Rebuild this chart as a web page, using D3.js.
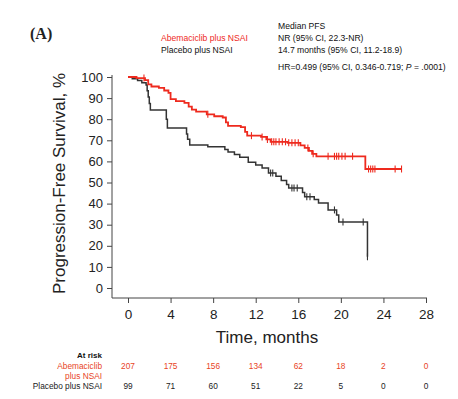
<!DOCTYPE html>
<html><head><meta charset="utf-8">
<script src="https://cdn.jsdelivr.net/npm/d3@7"></script>
<style>body{margin:0;background:#fff}svg{display:block;font-family:"Liberation Sans",Arial,sans-serif}</style>
</head><body><svg id="c" width="458" height="399"></svg>
<script>
// ---- data ----
const timeTicks = [0, 4, 8, 12, 16, 20, 24, 28];
const survTicks = [0, 10, 20, 30, 40, 50, 60, 70, 80, 90, 100];
const abemaSteps = [[0,100],[0.8,99.5],[1.6,98.5],[1.9,96.5],[2.2,95.5],[2.9,94.8],[3.4,93.6],[3.8,92.5],[4.0,89.5],[4.5,88.6],[5.3,87.7],[5.7,86],[6.0,84.5],[6.4,83.6],[7.4,82.3],[8.1,81.4],[8.9,80.8],[9.2,78.5],[9.4,76.8],[10.6,76.2],[11.0,74],[11.2,72.2],[12.5,71.6],[13.0,70.4],[13.4,69.3],[15.0,68.8],[16.2,67.6],[16.6,66.4],[17.0,65],[17.3,63.6],[17.7,62.4],[22.3,56.4],[25.7,56.4]];
const abemaCensor = [1.5,7.5,11.6,12.6,13.1,13.5,13.7,13.9,14.2,14.5,14.8,15.1,15.4,15.7,16.0,16.9,17.4,18.8,19.4,19.6,19.8,20.1,20.4,21.1,22.6,22.8,23.0,23.2,25.1,25.7];
const placeboSteps = [[0,100],[0.4,99.2],[0.9,98.3],[1.3,97.3],[1.7,96.2],[1.8,93.5],[1.9,90.5],[2.0,87.5],[2.1,84.4],[3.6,80],[3.7,75.8],[5.5,73],[5.6,70.5],[5.8,67.8],[7.5,67],[9.1,65.6],[9.4,64.5],[10.0,63.3],[10.5,62],[11.3,59.6],[12.0,58.3],[12.6,56.9],[13.2,54.5],[13.9,53],[14.4,51],[14.9,49],[15.1,47.4],[16.4,45.3],[16.6,43.3],[17.5,42],[17.9,40.3],[18.8,37],[19.6,34.6],[19.8,31.3],[22.5,14.8]];
const placeboCensor = [13.4,13.6,15.4,15.6,15.9,16.8,17.1,19.4,20.2,22.1,22.5];
const atRiskAbema = [207, 175, 156, 134, 62, 18, 2, 0];
const atRiskPlacebo = [99, 71, 60, 51, 22, 5, 0, 0];
const seriesNames = ["Abemaciclib plus NSAI", "Placebo plus NSAI"];
const medianLines = ["Median PFS", "NR (95% CI, 22.3-NR)", "14.7 months (95% CI, 11.2-18.9)"];

// ---- styles ----
const RED = "#ee2a1e", BLACK = "#333", AXIS = "#444", RISKRED = "#e8441e";

const svg = d3.select("#c");
const x = d3.scaleLinear().domain([0, 28]).range([128, 426]);
const y = d3.scaleLinear().domain([0, 100]).range([288, 77]);
const axisY = y(0) + 10, axisX = x(0) - 16;

// axes
const gx = svg.append("g").attr("transform", `translate(0,${axisY})`)
  .call(d3.axisBottom(x).tickValues(timeTicks).tickSize(5).tickPadding(6).tickSizeOuter(0));
gx.select(".domain").remove();
gx.selectAll("line").attr("stroke", AXIS);
gx.selectAll("text").attr("font-size", 13.5).attr("fill", "#222").attr("font-family", "Liberation Sans, Arial, sans-serif");
svg.append("line").attr("x1", axisX).attr("x2", x(28) + 1).attr("y1", axisY).attr("y2", axisY).attr("stroke", AXIS).attr("stroke-width", 1);

const gy = svg.append("g").attr("transform", `translate(${axisX},0)`)
  .call(d3.axisLeft(y).tickValues(survTicks).tickSize(5).tickPadding(4).tickSizeOuter(0));
gy.select(".domain").remove();
gy.selectAll("line").attr("stroke", AXIS);
gy.selectAll("text").attr("font-size", 13).attr("fill", "#222").attr("font-family", "Liberation Sans, Arial, sans-serif");
svg.append("line").attr("x1", axisX).attr("x2", axisX).attr("y1", y(100) - 2).attr("y2", axisY).attr("stroke", AXIS);

// axis titles
svg.append("text").attr("x", (x(0) + x(28)) / 2 - 10).attr("y", 343).attr("text-anchor", "middle")
  .attr("font-size", 17).attr("fill", "#222").text("Time, months");
svg.append("text").attr("transform", `translate(65,${(y(0) + y(100)) / 2 + 1}) rotate(-90)`)
  .attr("text-anchor", "middle").attr("font-size", 17).attr("fill", "#222").text("Progression-Free Survival, %");

// curves
const line = d3.line().x(d => x(d[0])).y(d => y(d[1])).curve(d3.curveStepAfter);
function valAt(steps, t) { let v = steps[0][1]; for (const s of steps) { if (s[0] <= t) v = s[1]; } return v; }
function drawSeries(steps, censor, color, w) {
  svg.append("path").datum(steps).attr("d", line).attr("fill", "none").attr("stroke", color).attr("stroke-width", w);
  svg.append("g").selectAll("line").data(censor).join("line")
    .attr("x1", d => x(d)).attr("x2", d => x(d))
    .attr("y1", d => y(valAt(steps, d)) - 3.5).attr("y2", d => y(valAt(steps, d)) + 3.5)
    .attr("stroke", color).attr("stroke-width", 1.1);
}
drawSeries(placeboSteps, placeboCensor, BLACK, 1.5);
drawSeries(abemaSteps, abemaCensor, RED, 1.8);

// header
svg.append("text").attr("x", 30).attr("y", 39).attr("font-family", "Liberation Serif, Times New Roman, serif")
  .attr("font-weight", "bold").attr("font-size", 16).attr("fill", "#222").text("(A)");
svg.append("text").attr("x", 161).attr("y", 41).attr("font-size", 8.6).attr("fill", RED).text(seriesNames[0]);
svg.append("text").attr("x", 161).attr("y", 53).attr("font-size", 8.6).attr("fill", "#111").text(seriesNames[1]);
medianLines.forEach((s, i) => {
  svg.append("text").attr("x", 278).attr("y", 29 + i * 12).attr("font-size", 8.6).attr("fill", "#111").text(s);
});
const hr = svg.append("text").attr("x", 278).attr("y", 70).attr("font-size", 8.6).attr("fill", "#111");
hr.append("tspan").text("HR=0.499 (95% CI, 0.346-0.719; ");
hr.append("tspan").attr("font-style", "italic").text("P");
hr.append("tspan").text(" = .0001)");

// at risk table
svg.append("text").attr("x", 102).attr("y", 358).attr("text-anchor", "end").attr("font-size", 8)
  .attr("font-weight", "bold").attr("fill", "#111").text("At risk");
svg.append("text").attr("x", 102).attr("y", 369).attr("text-anchor", "end").attr("font-size", 8.3)
  .attr("fill", RISKRED).text("Abemaciclib");
svg.append("text").attr("x", 102).attr("y", 379).attr("text-anchor", "end").attr("font-size", 8.3)
  .attr("fill", RISKRED).text("plus NSAI");
svg.append("text").attr("x", 102).attr("y", 389).attr("text-anchor", "end").attr("font-size", 8.3)
  .attr("fill", "#222").text("Placebo plus NSAI");
svg.append("g").selectAll("text").data(atRiskAbema).join("text")
  .attr("x", (d, i) => x(timeTicks[i])).attr("y", 369).attr("text-anchor", "middle")
  .attr("font-size", 8.3).attr("fill", RISKRED).text(d => d);
svg.append("g").selectAll("text").data(atRiskPlacebo).join("text")
  .attr("x", (d, i) => x(timeTicks[i])).attr("y", 389).attr("text-anchor", "middle")
  .attr("font-size", 8.3).attr("fill", "#222").text(d => d);
</script></body></html>
